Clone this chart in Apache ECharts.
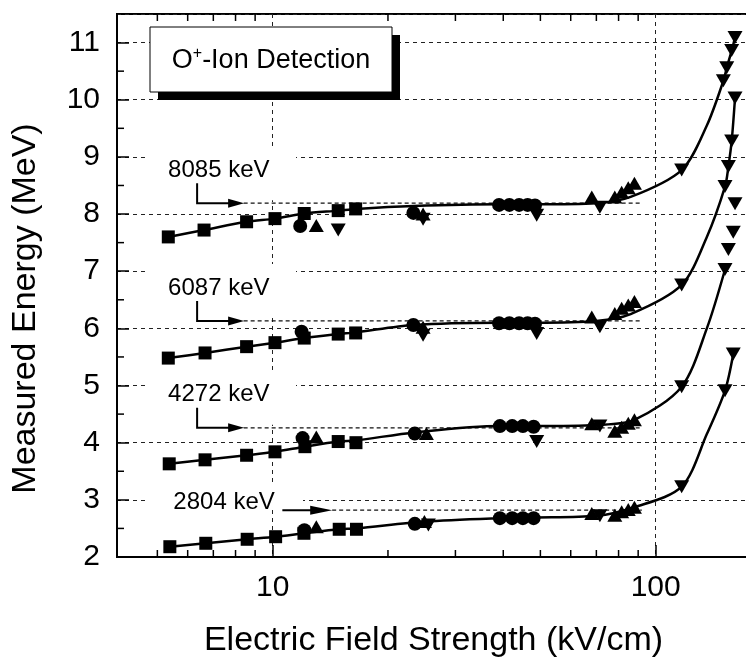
<!DOCTYPE html>
<html><head><meta charset="utf-8">
<script src="https://cdn.jsdelivr.net/npm/echarts@6/dist/echarts.min.js"></script>
<style>html,body{margin:0;padding:0;background:#fff}#c{width:746px;height:659px}</style>
</head><body><div id="c"></div>
<script>
// ---------- data ----------
const xTickLabels = ['10', '100'];
const yTickLabels = ['2','3','4','5','6','7','8','9','10','11'];
const minorXTicks = [5, 6, 7, 8, 9, 20, 30, 40, 50, 60, 70, 80, 90];
const minorYTicks = [2.5, 3.5, 4.5, 5.5, 6.5, 7.5, 8.5, 9.5, 10.5];

const squares = [
  [5.34,7.60],[6.62,7.72],[8.55,7.865],[10.14,7.92],[12.09,8.01],[14.83,8.06],[16.47,8.09],
  [5.34,5.48],[6.66,5.57],[8.55,5.68],[10.14,5.75],[12.09,5.83],[14.83,5.90],[16.47,5.92],
  [5.37,3.63],[6.66,3.70],[8.55,3.78],[10.14,3.84],[12.14,3.93],[14.83,4.02],[16.5,4.00],
  [5.39,2.18],[6.69,2.24],[8.58,2.31],[10.18,2.355],[12.07,2.415],[14.92,2.485],[16.55,2.485]
];
const circles = [
  [11.8,7.79],[23.3,8.02],[39.0,8.16],[41.5,8.16],[44.0,8.16],[46.3,8.16],[48.4,8.15],
  [11.9,5.94],[23.3,6.06],[39.0,6.09],[41.5,6.09],[44.0,6.09],[46.3,6.09],[48.4,6.08],
  [11.97,4.08],[23.5,4.16],[39.2,4.29],[42.2,4.29],[45.0,4.29],[48.0,4.28],
  [12.1,2.47],[23.5,2.58],[39.2,2.68],[42.2,2.68],[45.0,2.68],[48.0,2.68]
];
const upTriangles = [
  [13.0,7.80],[24.7,8.00],[68.1,8.30],[78.2,8.30],[81.5,8.38],[84.8,8.46],[88.0,8.54],
  [24.7,6.02],[68.1,6.20],[78.2,6.26],[81.5,6.35],[84.8,6.41],[88.0,6.47],
  [13.0,4.10],[25.2,4.16],[68.1,4.33],[78.2,4.20],[81.5,4.27],[84.8,4.34],[88.0,4.40],
  [13.0,2.53],[24.9,2.62],[68.1,2.76],[78.2,2.73],[81.5,2.79],[84.8,2.83],[88.0,2.87]
];
const downTriangles = [
  [14.83,7.72],[24.7,7.91],[48.9,7.98],[71.5,8.12],[116.9,8.77],[150.2,10.33],[153.3,10.56],[157.9,10.86],[161.1,11.09],
  [24.7,5.88],[48.9,5.91],[71.5,6.03],[116.9,6.76],[151.7,8.48],[154.8,8.83],[157.9,9.28],[161.1,10.03],
  [48.9,4.02],[71.5,4.29],[116.9,4.98],[151.7,7.03],[154.8,7.38],[159.4,7.68],[161.1,8.18],
  [25.5,2.56],[71.5,2.72],[116.9,3.23],[151.7,4.91],[159.4,5.55]
];
const guide8085 = [[5.34,7.60],[6.62,7.72],[8.55,7.865],[10.14,7.92],[12.09,8.01],[14.83,8.06],[16.47,8.09],[23.3,8.14],[39,8.17],[48.4,8.17],[70,8.19],[86,8.30],[116.9,8.77],[136,9.55],[150.2,10.33],[153.3,10.56],[157.9,10.86],[161.1,11.09]];
const guide6087 = [[5.34,5.48],[6.66,5.57],[8.55,5.68],[10.14,5.75],[12.09,5.83],[14.83,5.90],[16.47,5.93],[23.3,6.06],[39,6.10],[48.4,6.10],[70,6.13],[86,6.25],[116.9,6.76],[136,7.6],[151.7,8.48],[154.8,8.83],[157.9,9.28],[161.1,10.03]];
const guide4272 = [[5.37,3.63],[6.66,3.70],[8.55,3.78],[10.14,3.84],[12.14,3.93],[14.83,4.02],[16.5,4.04],[23.5,4.18],[39.2,4.29],[48,4.29],[70,4.31],[88,4.40],[116.9,4.98],[136,6.0],[151.7,7.03]];
const guide2804 = [[5.39,2.18],[6.69,2.24],[8.58,2.31],[10.18,2.355],[12.07,2.415],[14.92,2.485],[16.55,2.50],[24.9,2.62],[39.2,2.68],[48,2.69],[70,2.72],[88,2.87],[116.9,3.23],[136,4.15],[151.7,4.91],[159.4,5.55]];

const energyLabels = ['8085 keV', '6087 keV', '4272 keV', '2804 keV'];
const energyLevels = [8.19, 6.13, 4.26, 2.82];
const refLineStart = [8.4, 8.4, 8.4, 14.3];
const refLineEnd = 92;

// ---------- chart ----------
const FONT = '"Liberation Sans", Arial, Helvetica, sans-serif';
const X_MIN = 3.923, X_MAX = 200, Y_MIN = 2, Y_MAX = 11.5;
const dash = {color: '#222', type: [4, 4], width: 1};

const tickSeries = (data, vertical) => ({
  type: 'custom', silent: true, clip: false, z: 6, data: data,
  renderItem: function (params, api) {
    const v = api.value(vertical ? 0 : 1);
    const st = {stroke: '#000', lineWidth: 1.5};
    if (vertical) {
      const b = api.coord([v, Y_MIN]), t = api.coord([v, Y_MAX]);
      return {type: 'group', children: [
        {type: 'line', shape: {x1: b[0], y1: b[1], x2: b[0], y2: b[1] - 7}, style: st},
        {type: 'line', shape: {x1: t[0], y1: t[1], x2: t[0], y2: t[1] + 7}, style: st}
      ]};
    }
    const l = api.coord([X_MIN, v]);
    return {type: 'line', shape: {x1: l[0], y1: l[1], x2: l[0] + 7, y2: l[1]}, style: st};
  }
});

const lineSeries = (data) => ({
  type: 'line', data: data, smooth: 0.3, symbol: 'none', silent: true, z: 4,
  lineStyle: {color: '#000', width: 2.5}
});

const series = [
  lineSeries(guide8085), lineSeries(guide6087), lineSeries(guide4272), lineSeries(guide2804)
];
energyLevels.forEach((lv, i) => {
  series.push({type: 'line', data: [[refLineStart[i], lv], [refLineEnd, lv]], symbol: 'none', silent: true, z: 3,
    lineStyle: {color: '#111', type: [4, 3], width: 1.2}});
});
const mark = {color: '#000', opacity: 1};
series.push(
  {type: 'scatter', data: squares, symbol: 'rect', symbolSize: 13, itemStyle: mark, z: 5},
  {type: 'scatter', data: circles, symbol: 'circle', symbolSize: 14, itemStyle: mark, z: 5},
  {type: 'scatter', data: upTriangles, symbol: 'triangle', symbolSize: [15, 13], itemStyle: mark, z: 5},
  {type: 'scatter', data: downTriangles, symbol: 'triangle', symbolRotate: 180, symbolSize: [15, 13], itemStyle: mark, z: 5},
  tickSeries(minorXTicks.map(v => [v, Y_MIN]), true),
  tickSeries(minorYTicks.map(v => [X_MIN, v]), false)
);

const option = {
  animation: false,
  backgroundColor: '#fff',
  grid: {left: 117, right: -25, top: 14, bottom: 102, show: true, borderColor: '#000', borderWidth: 2,
    containLabel: false, outerBoundsMode: 'none'},
  xAxis: {
    type: 'log', logBase: 10, min: X_MIN, max: X_MAX,
    axisLine: {show: true, onZero: false, lineStyle: {color: '#000', width: 2}},
    axisTick: {show: true, inside: true, length: 12, lineStyle: {color: '#000', width: 1.5}},
    axisLabel: {margin: 16, fontSize: 30, color: '#000', fontFamily: FONT, showMinLabel: false, showMaxLabel: false,
      formatter: v => { const r = Math.round(v); return (Math.abs(v - r) < 1e-6 && xTickLabels.includes(String(r))) ? String(r) : ''; }},
    splitLine: {show: true, lineStyle: dash},
    name: 'Electric Field Strength (kV/cm)', nameLocation: 'middle', nameGap: 67,
    nameTextStyle: {fontSize: 34, color: '#000', fontFamily: FONT, padding: [0, 21, 0, 0]}
  },
  yAxis: {
    type: 'value', min: Y_MIN, max: Y_MAX, interval: 1,
    axisLine: {show: true, onZero: false, lineStyle: {color: '#000', width: 2}},
    axisTick: {show: true, inside: true, length: 12, lineStyle: {color: '#000', width: 1.5}},
    axisLabel: {margin: 17, fontSize: 30, color: '#000', fontFamily: FONT, showMaxLabel: false,
      formatter: v => yTickLabels.includes(String(v)) ? String(v) : ''},
    splitLine: {show: true, lineStyle: dash},
    name: 'Measured Energy (MeV)', nameLocation: 'middle', nameGap: 74,
    nameTextStyle: {fontSize: 34, color: '#000', fontFamily: FONT, padding: [0, 46, 0, 0]}
  },
  series: series
};

const chart = echarts.init(document.getElementById('c'), null, {renderer: 'canvas'});
chart.setOption(option);

// ---------- annotations ----------
const px = (x, y) => chart.convertToPixel({xAxisIndex: 0, yAxisIndex: 0}, [x, y]);
const g = [];
g.push({type: 'rect', z: 20, shape: {x: 158, y: 35, width: 242, height: 65}, style: {fill: '#000'}});
g.push({type: 'rect', z: 21, shape: {x: 150, y: 27, width: 242, height: 65}, style: {fill: '#fff', stroke: '#000', lineWidth: 1}});
g.push({type: 'text', z: 22, x: 271, y: 61, style: {
  text: '{a|O}{s|+}{a|-Ion Detection}', align: 'center', verticalAlign: 'middle',
  rich: {a: {fontSize: 27, fontFamily: FONT, fill: '#000', lineHeight: 30},
         s: {fontSize: 16, fontFamily: FONT, fill: '#000', verticalAlign: 'top', lineHeight: 30}}
}});

energyLabels.forEach((lab, i) => {
  const lv = energyLevels[i];
  if (i < 3) {
    const c = px(6.35, lv);
    const cx = c[0], ry = c[1];
    const ty = ry - 33;
    g.push({type: 'rect', z: 15, shape: {x: 147, y: ty - 24, width: 149, height: ry - 3 - (ty - 24)}, style: {fill: '#fff'}});
    g.push({type: 'text', z: 16, x: cx - 29, y: ty, style: {text: lab, fontSize: 24, fontFamily: FONT, fill: '#000', verticalAlign: 'middle', align: 'left'}});
    g.push({type: 'polyline', z: 16, shape: {points: [[cx, ty + 13], [cx, ry], [cx + 33, ry]]}, style: {stroke: '#000', lineWidth: 2, fill: null}});
    g.push({type: 'polygon', z: 16, shape: {points: [[cx + 47, ry], [cx + 31, ry - 4.5], [cx + 31, ry + 4.5]]}, style: {fill: '#000'}});
  } else {
    const s = px(10.6, lv), e = px(refLineStart[i], lv);
    const ry = s[1], ty = ry - 8;
    g.push({type: 'rect', z: 15, shape: {x: 147, y: ty - 18, width: 156, height: 24}, style: {fill: '#fff'}});
    g.push({type: 'text', z: 16, x: s[0] - 109, y: ty, style: {text: lab, fontSize: 24, fontFamily: FONT, fill: '#000', verticalAlign: 'middle', align: 'left'}});
    g.push({type: 'line', z: 16, shape: {x1: s[0], y1: ry, x2: e[0] - 14, y2: ry}, style: {stroke: '#000', lineWidth: 2}});
    g.push({type: 'polygon', z: 16, shape: {points: [[e[0], ry], [e[0] - 22, ry - 4.5], [e[0] - 22, ry + 4.5]]}, style: {fill: '#000'}});
  }
});
chart.setOption({graphic: g});
</script>
</body></html>
